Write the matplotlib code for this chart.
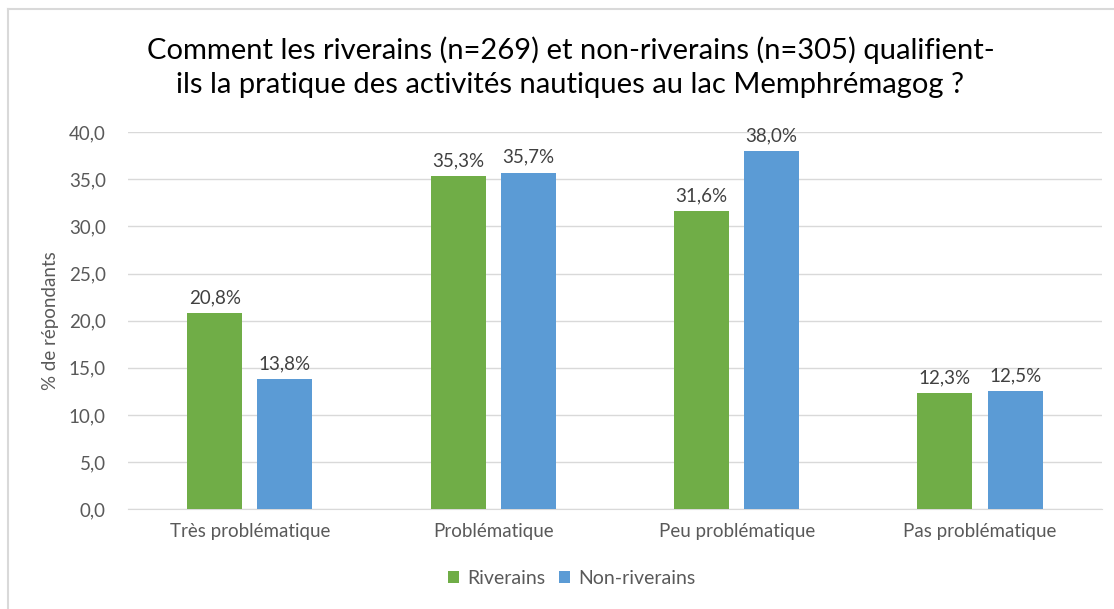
import matplotlib
matplotlib.use("Agg")
import matplotlib.pyplot as plt
from matplotlib.lines import Line2D
import numpy as np

categories = ["Très problématique", "Problématique", "Peu problématique", "Pas problématique"]
riverains = [20.8, 35.3, 31.6, 12.3]
non_riverains = [13.8, 35.7, 38.0, 12.5]
series_names = ["Riverains", "Non-riverains"]
yticks = [0, 5, 10, 15, 20, 25, 30, 35, 40]

plt.rcParams['font.family'] = ['Lato', 'DejaVu Sans']

fig = plt.figure(figsize=(11.14, 6.09), dpi=100)
ax = fig.add_axes([0.115, 0.164, 0.874, 0.619])

x = np.arange(len(categories))
w = 0.226
off = 0.144
green = "#70AD47"
blue = "#5B9BD5"
b1 = ax.bar(x - off, riverains, w, color=green, label=series_names[0], zorder=3)
b2 = ax.bar(x + off, non_riverains, w, color=blue, label=series_names[1], zorder=3)

def fmt(v):
    return f"{v:.1f}".replace(".", ",") + "%"

for bars, vals in ((b1, riverains), (b2, non_riverains)):
    for rect, v in zip(bars, vals):
        ax.annotate(fmt(v), (rect.get_x() + rect.get_width() / 2, v),
                    xytext=(0, 5), textcoords="offset points",
                    ha="center", va="bottom", fontsize=13.5, color="#404040")

ax.set_xlim(-0.5, 3.5)
ax.set_ylim(0, 40)
ax.set_yticks(yticks)
ax.set_yticklabels([f"{t:.1f}".replace(".", ",") for t in yticks], fontsize=13.5, color="#595959")
ax.set_xticks(x)
ax.set_xticklabels(categories, fontsize=13.5, color="#595959")
ax.tick_params(axis="y", length=0, pad=16)
ax.tick_params(axis="x", length=0, pad=10)
ax.grid(axis="y", color="#D9D9D9", linewidth=1, zorder=0)
for s in ["top", "right", "left"]:
    ax.spines[s].set_visible(False)
ax.spines["bottom"].set_color("#D9D9D9")
ax.set_ylabel("% de répondants", fontsize=13.5, color="#595959", labelpad=7)

fig.text(0.512, 0.890,
         "Comment les riverains (n=269) et non-riverains (n=305) qualifient-\nils la pratique des activités nautiques au lac Memphrémagog ?",
         ha="center", va="center", fontsize=21, color="#000000", linespacing=1.38)

leg = fig.legend(handles=[b1, b2], labels=series_names, loc="center", bbox_to_anchor=(0.513, 0.05),
                 ncol=2, frameon=False, fontsize=14, handlelength=0.6, handleheight=0.6,
                 handletextpad=0.4, columnspacing=0.7)
for t in leg.get_texts():
    t.set_color("#595959")

# chart border (top and left visible)
fig.add_artist(Line2D([8 / 1114, 1.0], [1 - 9 / 609, 1 - 9 / 609], transform=fig.transFigure, color="#D9D9D9", lw=1.5))
fig.add_artist(Line2D([8 / 1114, 8 / 1114], [0, 1 - 9 / 609], transform=fig.transFigure, color="#D9D9D9", lw=1.5))

fig.savefig("out.png", dpi=100)
